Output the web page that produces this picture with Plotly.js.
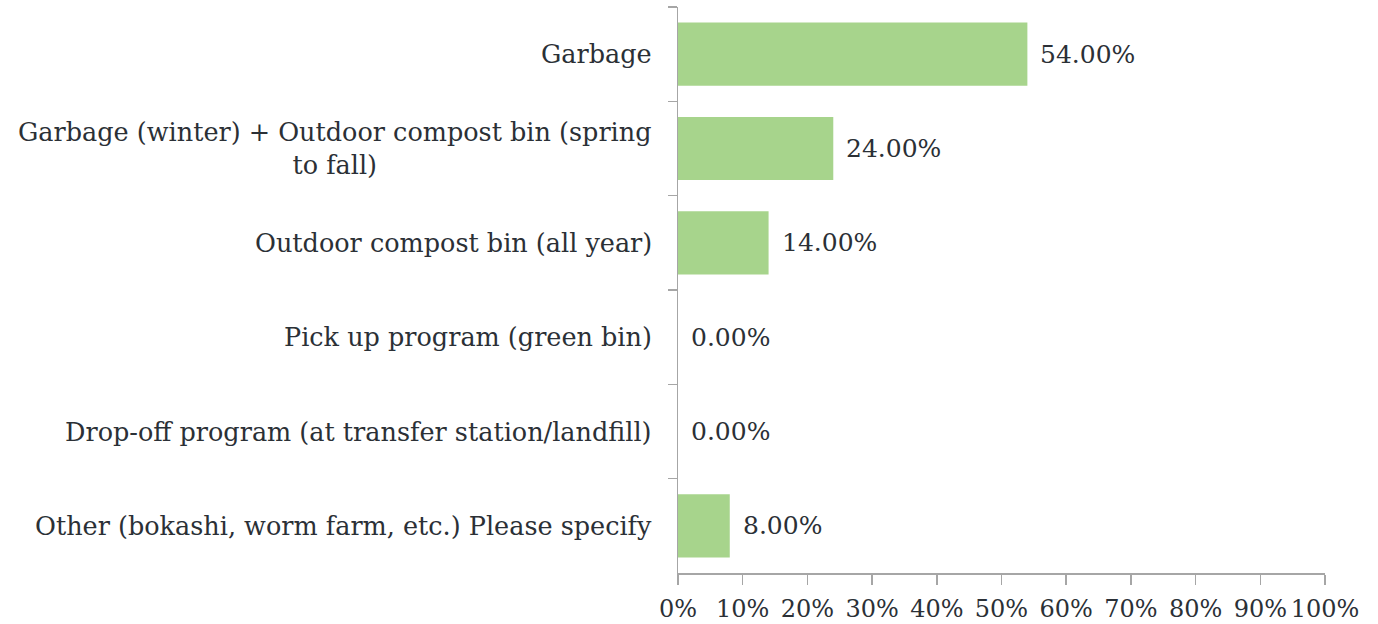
<!DOCTYPE html>
<html>
<head>
<meta charset="utf-8">
<script src="https://cdn.plot.ly/plotly-3.0.1.min.js"></script>
<style>html,body{margin:0;padding:0;background:#fff;}#chart{width:1378px;height:624px;}</style>
</head>
<body>
<div id="chart"></div>
<script>
const categories = [
  "Garbage",
  "Garbage (winter) + Outdoor compost bin (spring<br>to fall)",
  "Outdoor compost bin (all year)",
  "Pick up program (green bin)",
  "Drop-off program (at transfer station/landfill)",
  "Other (bokashi, worm farm, etc.) Please specify"
];
const values = [54, 24, 14, 0, 0, 8];
const tickValues = [0, 10, 20, 30, 40, 50, 60, 70, 80, 90, 100];
const tickLabels = ["0%", "10%", "20%", "30%", "40%", "50%", "60%", "70%", "80%", "90%", "100%"];

const FONT = "DejaVu Serif, serif";
const TXT = "#2b3036";
const AX = "#a6a6a6";

const ids = categories.map((c, i) => "c" + i);

const trace = {
  type: "bar",
  orientation: "h",
  y: ids,
  x: values,
  marker: { color: "#a7d48c" },
  width: 0.67,
  hoverinfo: "none"
};

const catAnnotations = categories.map((c, i) => ({
  xref: "paper", yref: "y", x: 0, y: ids[i],
  xanchor: "right", yanchor: "middle", xshift: -24,
  text: c, showarrow: false, align: "center",
  font: { family: FONT, size: 25.5, color: TXT }
}));

const valueAnnotations = values.map((v, i) => ({
  xref: "x", yref: "y", x: v, y: ids[i],
  xanchor: "left", yanchor: "middle", xshift: 11,
  text: v.toFixed(2) + "%", showarrow: false,
  font: { family: FONT, size: 25, color: TXT }
}));

const layout = {
  width: 1378, height: 624,
  margin: { l: 678, r: 53, t: 7, b: 51, pad: 0 },
  paper_bgcolor: "#fff", plot_bgcolor: "#fff",
  showlegend: false,
  font: { family: FONT, size: 24, color: TXT },
  xaxis: {
    range: [0, 100], tickvals: tickValues, ticktext: tickLabels, tickangle: 0,
    showgrid: false, zeroline: false, showline: true, linecolor: AX, linewidth: 1.5,
    ticks: "outside", ticklen: 10, tickcolor: AX, tickwidth: 1.5, ticklabelstandoff: 4,
    tickfont: { family: FONT, size: 24, color: TXT }, fixedrange: true
  },
  yaxis: {
    type: "category", autorange: "reversed", categoryorder: "array", categoryarray: ids,
    showticklabels: false, tickson: "boundaries",
    showgrid: false, zeroline: false, showline: true, linecolor: AX, linewidth: 1.5,
    ticks: "outside", ticklen: 9, tickcolor: AX, tickwidth: 1.5, fixedrange: true
  },
  annotations: catAnnotations.concat(valueAnnotations)
};

Plotly.newPlot("chart", [trace], layout, { staticPlot: true, displayModeBar: false });
</script>
</body>
</html>
